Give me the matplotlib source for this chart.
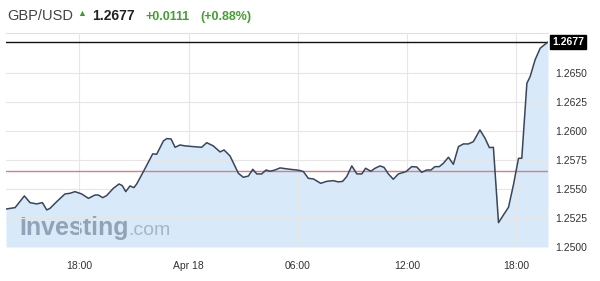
import matplotlib.pyplot as plt

plt.rcParams['font.family'] = ['Liberation Sans', 'DejaVu Sans']

# hours since Apr 17 00:00 and GBP/USD quotes
hours = [13.97, 14.47, 14.98, 15.29, 15.66, 15.97, 16.21, 16.39, 16.76, 17.21,
         17.49, 17.76, 18.13, 18.50, 18.86, 19.05, 19.28, 19.50, 19.87, 20.18,
         20.36, 20.55, 20.78, 21.00, 21.15, 21.52, 22.03, 22.25, 22.62, 22.80,
         23.04, 23.26, 23.53, 23.81, 24.26, 24.72, 25.00, 25.36, 25.73, 25.95,
         26.28, 26.74, 27.01, 27.29, 27.53, 27.75, 28.02, 28.26, 28.48, 28.75,
         29.03, 29.30, 29.58, 29.94, 30.13, 30.31, 30.58, 30.86, 31.26, 31.59,
         31.96, 32.23, 32.47, 32.69, 32.97, 33.25, 33.52, 33.73, 34.01, 34.25,
         34.52, 34.74, 34.98, 35.25, 35.53, 35.95, 36.26, 36.54, 36.81, 37.09,
         37.32, 37.54, 37.78, 38.00, 38.28, 38.55, 38.83, 39.10, 39.38, 39.65,
         40.01, 40.29, 40.53, 40.75, 41.03, 41.30, 41.58, 41.85, 42.13, 42.31,
         42.59, 42.77, 43.04, 43.32, 43.59, 43.75]
prices = [1.25328, 1.25340, 1.25441, 1.25383, 1.25372, 1.25383, 1.25320, 1.25334, 1.25392, 1.25458,
          1.25464, 1.25478, 1.25458, 1.25420, 1.25449, 1.25449, 1.25426, 1.25444, 1.25507, 1.25544,
          1.25530, 1.25478, 1.25527, 1.25513, 1.25544, 1.25651, 1.25804, 1.25801, 1.25916, 1.25936,
          1.25933, 1.25861, 1.25881, 1.25873, 1.25867, 1.25861, 1.25901, 1.25873, 1.25821, 1.25838,
          1.25786, 1.25636, 1.25602, 1.25613, 1.25671, 1.25631, 1.25631, 1.25665, 1.25654, 1.25665,
          1.25683, 1.25677, 1.25671, 1.25665, 1.25660, 1.25651, 1.25593, 1.25588, 1.25550, 1.25567,
          1.25573, 1.25562, 1.25567, 1.25608, 1.25700, 1.25631, 1.25631, 1.25680, 1.25654, 1.25680,
          1.25700, 1.25688, 1.25631, 1.25585, 1.25631, 1.25651, 1.25694, 1.25691, 1.25645, 1.25665,
          1.25665, 1.25694, 1.25694, 1.25723, 1.25775, 1.25714, 1.25867, 1.25890, 1.25890, 1.25910,
          1.26011, 1.25939, 1.25858, 1.25861, 1.25210, 1.25276, 1.25343, 1.25536, 1.25766, 1.25766,
          1.26414, 1.26472, 1.26616, 1.26716, 1.26751, 1.26770]

prev_close = 1.2566
last_price = 1.2677
xtick_pos = [18, 24, 30, 36, 42]
xtick_labels = ['18:00', 'Apr 18', '06:00', '12:00', '18:00']
ytick_vals = [1.2500, 1.2525, 1.2550, 1.2575, 1.2600, 1.2625, 1.2650]

fig = plt.figure(figsize=(6, 2.81), dpi=100)
ax = fig.add_axes([6 / 600, 34 / 281, 542 / 600, 214 / 281])

ax.fill_between(hours, prices, 1.25, color='#d8e9f9', zorder=1, linewidth=0)
ax.plot(hours, prices, color='#38455a', linewidth=1.1, zorder=4)
ax.axhline(prev_close, color='#d57f89', linewidth=1.0, zorder=3)
ax.axhline(last_price, color='#111111', linewidth=1.0, zorder=3)

ax.set_xlim(hours[0], hours[-1])
ax.set_ylim(1.25, 1.26848)
ax.set_xticks(xtick_pos)
ax.set_xticklabels(xtick_labels)
ax.set_yticks(ytick_vals)
ax.set_yticklabels(['%.4f' % v for v in ytick_vals])
ax.yaxis.tick_right()
ax.tick_params(axis='both', length=0, labelsize=7.5, colors='#333333')
ax.tick_params(axis='x', pad=10)
ax.tick_params(axis='y', pad=5)
for lbl in ax.get_yticklabels():
    lbl.set_horizontalalignment('left')

ax.set_axisbelow(False)
ax.grid(True, color='#e6e6e6', linewidth=0.8, zorder=2)
for side in ['left', 'right', 'bottom']:
    ax.spines[side].set_visible(False)
ax.spines['top'].set_color('#e0e0e0')
ax.spines['top'].set_linewidth(0.8)

# last price badge
ax.text(1.008, last_price, '%.4f' % last_price, transform=ax.get_yaxis_transform(),
        ha='left', va='center', fontsize=7.5, color='white', fontweight='bold',
        bbox=dict(boxstyle='square,pad=0.2', facecolor='black', edgecolor='black'))

# watermark
ax.text(0.025, 0.055, 'Investing', transform=ax.transAxes, fontsize=18,
        fontweight='bold', color='#92a3b8', zorder=2)
ax.text(0.226, 0.055, '.com', transform=ax.transAxes, fontsize=14,
        color='#a7b6c8', zorder=2)

# header
fig.text(7 / 600, 1 - 20 / 281, 'GBP/USD', fontsize=10.5, color='#444444')
fig.text(77 / 600, 1 - 16 / 281, '\u25B2', fontsize=6.5, color='#3f9a2d')
fig.text(92 / 600, 1 - 20 / 281, '1.2677', fontsize=10, fontweight='bold', color='#222222')
fig.text(145 / 600, 1 - 20 / 281, '+0.0111', fontsize=9, fontweight='bold', color='#45a032')
fig.text(200 / 600, 1 - 20 / 281, '(+0.88%)', fontsize=9, fontweight='bold', color='#45a032')

fig.savefig('out.png', dpi=100)
